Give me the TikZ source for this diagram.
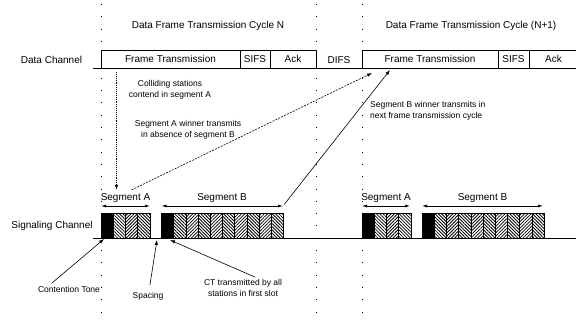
\documentclass[tikz,border=0pt]{standalone}
\usepackage{fontspec}
\setmainfont{Liberation Sans}
\usetikzlibrary{arrows.meta,patterns.meta}

\begin{document}
\begin{tikzpicture}[x=1pt,y=-1pt,
        font=\fontsize{10}{12}\selectfont,
        chbox/.style={draw,line width=0.7pt,minimum height=18pt,inner sep=0pt},
        note/.style={font=\fontsize{8.5}{10.5}\selectfont,align=center,inner sep=1pt},
        dotline/.style={line width=1pt,dash pattern=on 0.8pt off 11.5pt},
        tip/.style={-{Latex[length=5pt,width=3.5pt]},line width=0.6pt},
        seg/.style={{Latex[length=5pt,width=3pt]}-{Latex[length=5pt,width=3pt]},line width=0.7pt}]
        \useasboundingbox (0,0) rectangle (576,322);

        % cycle boundaries
        \foreach \x in {101,316,362}
            \draw[dotline] (\x,4) -- (\x,322);

        \node (cycleN) at (208,26) {Data Frame Transmission Cycle N};
        \node (cycleN1) at (471,26) {Data Frame Transmission Cycle (N+1)};

        % data channel
        \node (datach) at (51.5,60) {Data Channel};
        \draw[line width=0.7pt] (93,68) -- (576,68);
        \node[chbox, minimum width=139pt] (ft1) at (170.5,59) {Frame Transmission};
        \node[chbox, minimum width=30pt] (sifs1) at (255,59) {SIFS};
        \node[chbox, minimum width=46pt] (ack1) at (293,59) {Ack};
        \node (difs) at (339,60) {DIFS};
        \node[chbox, minimum width=136pt] (ft2) at (430,59) {Frame Transmission};
        \node[chbox, minimum width=31pt] (sifs2) at (513.5,59) {SIFS};
        \node[chbox, minimum width=49pt] (ack2) at (553.5,59) {Ack};

        % signaling channel
        \node (sigch) at (52,226) {Signaling Channel};
        \foreach \x/\n in {101/4,161.5/10,362/4,422/10} {
            \fill[draw,line width=0.5pt] (\x,213) rectangle ++(12.2,25);
            \foreach \k [evaluate=\k as \ang using {mod(\k,2)==0 ? -45 : 45}] in {2,...,\n}
                \draw[line width=0.5pt,pattern={Lines[angle=\ang,distance=2.3pt,line width=0.8pt]}]
                    ({\x+(\k-1)*12.2},213) rectangle ++(12.2,25);
        }
        \draw[line width=0.8pt] (93,238) -- (576,238);

        % segments
        \coordinate (sa1w) at (101,206);  \coordinate (sa1e) at (150,206);
        \coordinate (sb1w) at (161.5,206); \coordinate (sb1e) at (283,206);
        \coordinate (sa2w) at (362,206);  \coordinate (sa2e) at (410,206);
        \coordinate (sb2w) at (422,206);  \coordinate (sb2e) at (543,206);
        \draw[seg] (sa1w) -- (sa1e);
        \draw[seg] (sb1w) -- (sb1e);
        \draw[seg] (sa2w) -- (sa2e);
        \draw[seg] (sb2w) -- (sb2e);
        \node (sega1) at (125.5,198) {Segment A};
        \node (segb1) at (222,198) {Segment B};
        \node (sega2) at (386,198) {Segment A};
        \node (segb2) at (482.5,198) {Segment B};

        % notes and arrows
        \node[note] (collide) at (170,90) {Colliding stations\\contend in segment A};
        \node[note] (absent) at (188,130) {Segment A winner transmits\\in absence of segment B};
        \node[note, align=left, anchor=west] (nextcyc) at (369,111) {Segment B winner transmits in\\next frame transmission cycle};

        \coordinate (contend) at (116.5,72);
        \coordinate (ft2a) at (372,73);
        \coordinate (ft2b) at (390,70);
        \draw[tip, line width=0.9pt, densely dotted] (contend) -- ([xshift=-9pt]sega1.north);
        \draw[tip, dash pattern=on 2pt off 1.2pt] ([xshift=6pt]sega1.north) -- (ft2a);
        \draw[tip, shorten <=2pt] (sb1e) -- (ft2b);

        \node[note] (tone) at (69,289) {Contention Tone};
        \node[note] (spacing) at (148,296) {Spacing};
        \node[note] (cttx) at (243,288) {CT transmitted by all\\stations in first slot};
        \coordinate (tonept) at (104,239);
        \coordinate (spacept) at (157,240);
        \coordinate (ctpt) at (170,240);
        \draw[tip, shorten <=2pt] ([xshift=-19pt]tone.north) -- (tonept);
        \draw[tip, shorten <=6pt] ([xshift=1pt]spacing.north) -- (spacept);
        \draw[tip, shorten <=3pt] ([xshift=15pt]cttx.north) -- (ctpt);
    \end{tikzpicture}
\end{document}
